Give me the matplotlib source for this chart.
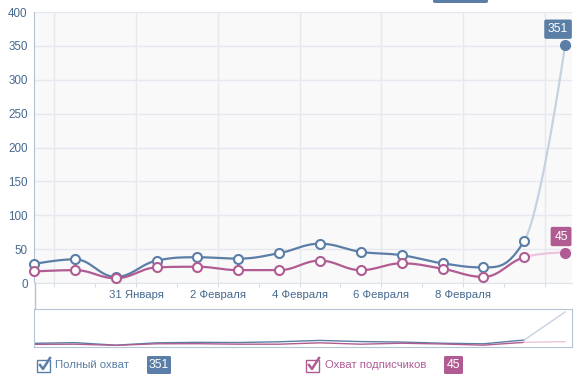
import numpy as np
import matplotlib
matplotlib.use('Agg')
from matplotlib import pyplot as plt
from matplotlib.patches import Rectangle, FancyBboxPatch
from matplotlib.lines import Line2D

plt.rcParams['font.family'] = ['Liberation Sans', 'DejaVu Sans']

# data: 14 points, one per day (midday), last one is today
reach_total = [28, 35, 9, 33, 38, 36, 44, 58, 46, 41, 29, 23, 62, 351]
reach_subs = [17, 19, 7, 23, 24, 19, 19, 33, 19, 29, 21, 9, 38, 45]
tick_labels = ['', '', '31 Января', '', '2 Февраля', '', '4 Февраля', '',
               '6 Февраля', '', '8 Февраля', '', '']
legend_names = ['Полный охват', 'Охват подписчиков']

W, H = 587, 389
BLUE = '#5a7ea6'
BLUE_LIGHT = '#c6d2e1'
PINK = '#b05c92'
PINK_LIGHT = '#ebc6da'
TXT_BLUE = '#46698f'


def fig_xy(x, y):
    return x / W, 1 - y / H


def spline(xs, ys, n=30):
    # highcharts-like spline through the points
    xs = np.asarray(xs, float)
    ys = np.asarray(ys, float)
    m = len(xs)
    lc = [(xs[i], ys[i]) for i in range(m)]
    rc = [(xs[i], ys[i]) for i in range(m)]
    s, d = 1.5, 2.5
    for i in range(1, m - 1):
        x, y = xs[i], ys[i]
        lx, ly = xs[i - 1], ys[i - 1]
        nx, ny = xs[i + 1], ys[i + 1]
        lcx = (s * x + lx) / d
        lcy = (s * y + ly) / d
        rcx = (s * x + nx) / d
        rcy = (s * y + ny) / d
        corr = (rcy - lcy) * (rcx - x) / (rcx - lcx) + y - rcy
        lcy += corr
        rcy += corr
        if lcy > ly and lcy > y:
            lcy = max(ly, y)
            rcy = 2 * y - lcy
        elif lcy < ly and lcy < y:
            lcy = min(ly, y)
            rcy = 2 * y - lcy
        if rcy > ny and rcy > y:
            rcy = max(ny, y)
            lcy = 2 * y - rcy
        elif rcy < ny and rcy < y:
            rcy = min(ny, y)
            lcy = 2 * y - rcy
        lc[i] = (lcx, lcy)
        rc[i] = (rcx, rcy)
    segs = []
    t = np.linspace(0, 1, n)[:, None]
    for i in range(m - 1):
        p0 = np.array([xs[i], ys[i]])
        p1 = np.array(rc[i])
        p2 = np.array(lc[i + 1])
        p3 = np.array([xs[i + 1], ys[i + 1]])
        b = ((1 - t) ** 3) * p0 + 3 * ((1 - t) ** 2) * t * p1 + 3 * (1 - t) * t ** 2 * p2 + t ** 3 * p3
        segs.append(b)
    return segs


fig = plt.figure(figsize=(W / 100, H / 100), dpi=100)

# main plot
ax = fig.add_axes([34 / W, (H - 283) / H, (572 - 34) / W, (283 - 12) / H])
ax.set_facecolor('#f9f9f9')
x = np.arange(len(reach_total))
ax.set_xlim(0, 13.17)
ax.set_ylim(0, 400)
ax.set_yticks(range(0, 401, 50))
ax.set_xticks(np.arange(0.5, 13, 1))
ax.set_xticklabels(tick_labels)
ax.grid(axis='y', color='#e5e8ef', lw=1)
for g in np.arange(0.5, 13, 2):
    ax.axvline(g, color='#e5e8ef', lw=1, zorder=0)
ax.set_axisbelow(True)
for side in ['top', 'right']:
    ax.spines[side].set_visible(False)
ax.spines['left'].set_color('#b4c3d3')
ax.spines['bottom'].set_color('#dfe4ea')
ax.tick_params(axis='y', length=0, pad=4.5, labelsize=8.4, labelcolor=TXT_BLUE)
ax.tick_params(axis='x', length=3, color='#d3dbe4', pad=2, labelsize=8.2, labelcolor=TXT_BLUE)

for vals, col, light in [(reach_total, BLUE, BLUE_LIGHT), (reach_subs, PINK, PINK_LIGHT)]:
    segs = spline(x, vals)
    main = np.vstack(segs[:-1])
    ax.plot(main[:, 0], main[:, 1], color=col, lw=1.6, zorder=3, solid_capstyle='round')
    ax.plot(segs[-1][:, 0], segs[-1][:, 1], color=light, lw=1.6, zorder=2)
    ax.plot(x[:-1], vals[:-1], 'o', ms=6.5, mfc='white', mec=col, mew=1.5, zorder=4, clip_on=False)
    ax.plot(x[-1], vals[-1], 'o', ms=7, color=col, zorder=4, clip_on=False)

ax.annotate(str(reach_total[-1]), (x[-1], reach_total[-1]), xytext=(-7, 16),
            textcoords='offset pixels', ha='center', va='center', color='white', fontsize=8.8,
            bbox=dict(boxstyle='round,pad=0.3,rounding_size=0.15', fc=BLUE, ec='none'), zorder=5)
ax.annotate(str(reach_subs[-1]), (x[-1], reach_subs[-1]), xytext=(-4, 16),
            textcoords='offset pixels', ha='center', va='center', color='white', fontsize=8.8,
            bbox=dict(boxstyle='round,pad=0.3,rounding_size=0.15', fc=PINK, ec='none'), zorder=5)

# left line going down to the navigator
fig.add_artist(Line2D([34.5 / W, 34.5 / W], [1 - 283 / H, 1 - 309 / H], color='#b4c3d3', lw=1))

# cut off tooltip at the top
fx, fy = fig_xy(433, 3)
fig.add_artist(FancyBboxPatch((fx, fy), 55 / W, 10 / H, boxstyle='round,pad=0,rounding_size=0.004',
                              fc=BLUE, ec='none'))

# navigator
nav = fig.add_axes([34 / W, (H - 347) / H, (572 - 34) / W, (347 - 309) / H])
nav.set_xlim(0, 13.17)
nav.set_ylim(-10, 382)
nav.set_xticks([])
nav.set_yticks([])
for sp in nav.spines.values():
    sp.set_color('#b4c4d4')
for vals, col, light in [(reach_total, BLUE, BLUE_LIGHT), (reach_subs, PINK, PINK_LIGHT)]:
    nav.plot(x[:-1], vals[:-1], color=col, lw=1)
    nav.plot(x[-2:], vals[-2:], color=light, lw=1)

# legend
for (cx, tx, bx, bw, name, val, col) in [(37, 55, 147, 24, legend_names[0], reach_total[-1], BLUE),
                                         (306, 325, 444, 19, legend_names[1], reach_subs[-1], PINK)]:
    fx, fy = fig_xy(cx, 372)
    fig.add_artist(Rectangle((fx, fy), 13 / W, 12 / H, fill=False, ec=col, lw=1))
    px = [cx + 3, cx + 6, cx + 13]
    py = [365, 369, 358]
    fig.add_artist(Line2D([p / W for p in px], [1 - p / H for p in py], color=col, lw=1.8))
    fx, fy = fig_xy(tx, 365)
    fig.text(fx, fy, name, color=col, fontsize=8.2, va='center', ha='left')
    fx, fy = fig_xy(bx, 374)
    fig.add_artist(FancyBboxPatch((fx, fy), bw / W, 18 / H, boxstyle='round,pad=0,rounding_size=0.003',
                                  fc=col, ec='none'))
    fx, fy = fig_xy(bx + bw / 2, 365)
    fig.text(fx, fy, str(val), color='white', fontsize=8.8, va='center', ha='center')

fig.savefig('out.png', dpi=100)
